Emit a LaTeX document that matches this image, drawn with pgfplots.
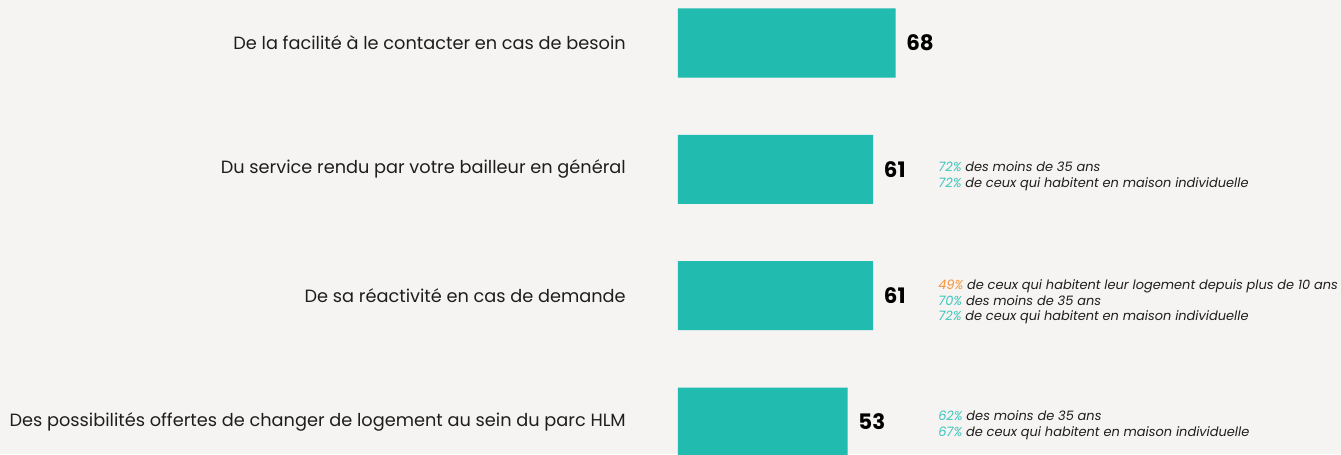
\documentclass[border=0pt]{standalone}
\usepackage{pgfplots}
\pgfplotsset{compat=1.18}
\usepackage{fontspec}
\setmainfont{Poppins}
\usetikzlibrary{backgrounds}
\definecolor{barc}{HTML}{21BBB0}
\definecolor{pct}{HTML}{3FC5BC}
\definecolor{orng}{HTML}{F7943A}
\definecolor{bgc}{HTML}{F5F4F2}
\definecolor{txt}{HTML}{1E1E1E}
\begin{document}
\begin{tikzpicture}
\begin{axis}[
  name=ax, scale only axis, width=240pt, height=340.5pt,
  xmin=0, xmax=100, ymin=-0.3404, ymax=3.2533, y dir=reverse,
  xbar, bar width=51.75pt,
  axis line style={draw=none}, major tick length=0pt,
  xtick=\empty, ytick={0,1,2,3},
  yticklabels={De la facilité à le contacter en cas de besoin,
    Du service rendu par votre bailleur en général,
    De sa réactivité en cas de demande,
    Des possibilités offertes de changer de logement au sein du parc HLM},
  yticklabel style={font=\fontsize{13.3}{15}\selectfont, text=txt, inner sep=0pt, xshift=-39pt},
  /pgf/number format/assume math mode=true,
  point meta=x,
  nodes near coords,
  nodes near coords style={font=\fontsize{16}{16}\selectfont\bfseries, text=black, inner sep=0pt, anchor=west, xshift=7.9pt},
  clip=false,
]
\addplot[fill=barc, draw=none] coordinates {(68,0) (61,1) (61,2) (53,3)};
\node[anchor=west, align=left, inner sep=0pt, text=txt, font=\itshape\fontsize{9.7}{11.6}\selectfont] at (axis cs:81.25,1.056)
  {\textcolor{pct}{72\%} des moins de 35 ans\\\textcolor{pct}{72\%} de ceux qui habitent en maison individuelle};
\node[anchor=west, align=left, inner sep=0pt, text=txt, font=\itshape\fontsize{9.7}{11.6}\selectfont] at (axis cs:81.25,2.051)
  {\textcolor{orng}{49\%} de ceux qui habitent leur logement depuis plus de 10 ans\\\textcolor{pct}{70\%} des moins de 35 ans\\\textcolor{pct}{72\%} de ceux qui habitent en maison individuelle};
\node[anchor=west, align=left, inner sep=0pt, text=txt, font=\itshape\fontsize{9.7}{11.6}\selectfont] at (axis cs:81.25,3.026)
  {\textcolor{pct}{62\%} des moins de 35 ans\\\textcolor{pct}{67\%} de ceux qui habitent en maison individuelle};
\end{axis}
\begin{scope}[on background layer]
\fill[bgc] ([xshift=-508.5pt]ax.south west) rectangle ([xshift=257.25pt]ax.north east);
\end{scope}
\pgfresetboundingbox
\path[use as bounding box] ([xshift=-508.5pt]ax.south west) rectangle ([xshift=257.25pt]ax.north east);
\end{tikzpicture}
\end{document}
